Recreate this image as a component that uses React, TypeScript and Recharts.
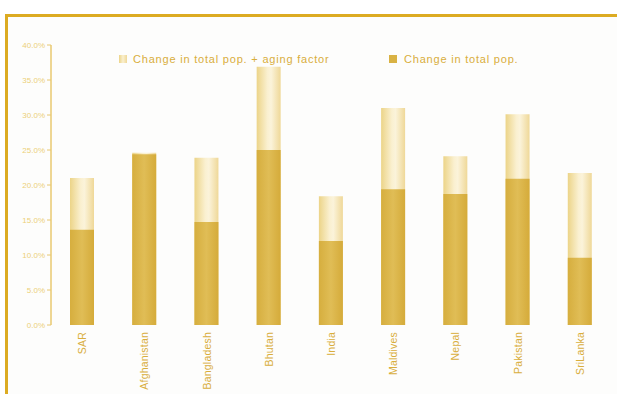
import React from "react";
import { BarChart, Bar, XAxis, YAxis } from "recharts";

const categories = ["SAR", "Afghanistan", "Bangladesh", "Bhutan", "India", "Maldives", "Nepal", "Pakistan", "SriLanka"];
const totalWithAging = [21.0, 24.6, 23.9, 36.9, 18.4, 31.0, 24.1, 30.1, 21.7];
const totalPop = [13.6, 24.4, 14.7, 25.0, 12.0, 19.4, 18.7, 20.9, 9.6];
const yTicks = [0, 5, 10, 15, 20, 25, 30, 35, 40];
const legendLabels = ["Change in total pop. + aging factor", "Change in total pop."];

const data = categories.map((c, i) => ({ name: c, aging: totalWithAging[i], total: totalPop[i] }));

const GOLD = "#d9ae3c";

const XTick = (props: any) => {
  const { x, y, payload } = props;
  return (
    <text
      x={x}
      y={y}
      transform={`rotate(-90, ${x}, ${y})`}
      textAnchor="end"
      dominantBaseline="central"
      fontSize={10.5}
      fill="#d9ae3c"
      fontFamily="Liberation Sans, Arial, sans-serif"
      letterSpacing={0.2}
    >
      {payload.value}
    </text>
  );
};

const YTick = (props: any) => {
  const { x, y, payload } = props;
  return (
    <text x={x} y={y} textAnchor="end" dominantBaseline="central" fontSize={8} fill="#ecd078" fontFamily="Liberation Sans, Arial, sans-serif">
      {payload.value.toFixed(1)}%
    </text>
  );
};

export default function App() {
  return (
    <div style={{ position: "absolute", left: 0, top: 0, width: 617, height: 394, background: "#ffffff" }}>
      <div
        style={{
          position: "absolute",
          left: 5,
          top: 14,
          width: 612,
          height: 380,
          borderLeft: "3px solid #dcab22",
          borderTop: "3px solid #dcab22",
          background: "#fdfdfc",
          boxSizing: "border-box",
        }}
      />
      <div style={{ position: "absolute", left: 0, top: 0 }}>
        <BarChart
          width={617}
          height={394}
          data={data}
          margin={{ top: 45, right: 6, bottom: 39, left: 11 }}
          barSize={24}
          barGap={-24}
        >
          <defs>
            <linearGradient id="lightGrad" x1="0" y1="0" x2="1" y2="0">
              <stop offset="0%" stopColor="#ecd488" />
              <stop offset="45%" stopColor="#faf0d0" />
              <stop offset="60%" stopColor="#fbf3da" />
              <stop offset="100%" stopColor="#efd898" />
            </linearGradient>
            <linearGradient id="darkGrad" x1="0" y1="0" x2="1" y2="0">
              <stop offset="0%" stopColor="#d6ae3e" />
              <stop offset="50%" stopColor="#e0bd56" />
              <stop offset="100%" stopColor="#d5ab3a" />
            </linearGradient>
          </defs>
          <XAxis dataKey="name" height={30} axisLine={false} tickLine={false} tickSize={6} tick={<XTick />} interval={0} tickMargin={1} />
          <YAxis
            domain={[0, 40]}
            ticks={yTicks}
            width={40}
            axisLine={{ stroke: "#e8c870", strokeWidth: 1.5 }}
            tickLine={{ stroke: "#e8c870" }}
            tickSize={4}
            tick={<YTick />}
            interval={0}
          />
          <Bar dataKey="aging" fill="url(#lightGrad)" isAnimationActive={false} />
          <Bar dataKey="total" fill="url(#darkGrad)" isAnimationActive={false} />
        </BarChart>
      </div>
      <div
        style={{
          position: "absolute",
          top: 53,
          left: 119,
          display: "flex",
          alignItems: "center",
          fontFamily: "Liberation Sans, Arial, sans-serif",
          fontSize: 11,
          letterSpacing: 0.8,
          color: GOLD,
          whiteSpace: "nowrap",
        }}
      >
        <span style={{ display: "inline-block", width: 8, height: 8, background: "linear-gradient(90deg,#ecd488,#faf0d0,#efd898)", marginRight: 6 }} />
        <span style={{ width: 256 }}>{legendLabels[0]}</span>
        <span style={{ display: "inline-block", width: 8, height: 8, background: "#d9b244", marginRight: 7 }} />
        <span>{legendLabels[1]}</span>
      </div>
    </div>
  );
}
